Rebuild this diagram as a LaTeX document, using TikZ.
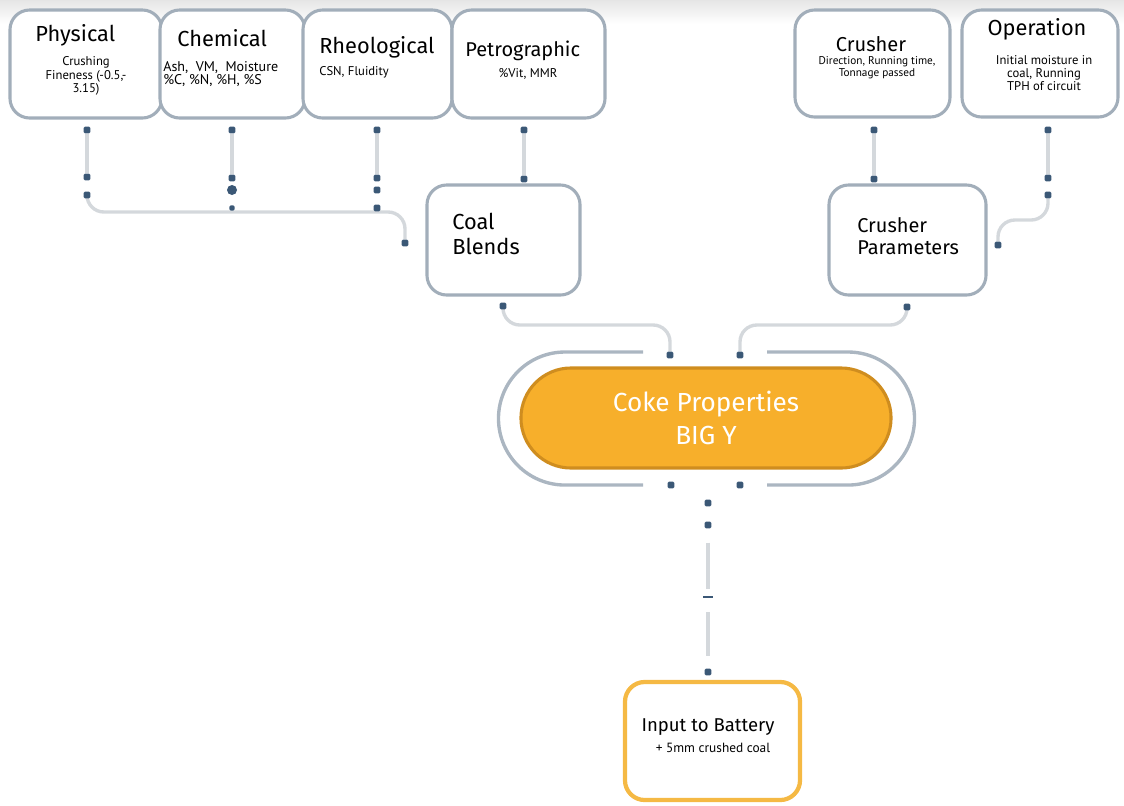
\documentclass[tikz,border=0pt]{standalone}
\usepackage{fontspec}
\setmainfont{Fira Sans}
\newfontfamily\subfont{PT Sans}
\usetikzlibrary{backgrounds}

\definecolor{boxline}{HTML}{A2AEBA}
\definecolor{dotblue}{HTML}{3B5876}
\definecolor{wiregray}{HTML}{D4D8DC}
\definecolor{cokefill}{HTML}{F7AF2B}
\definecolor{cokeline}{HTML}{CF8D1F}
\definecolor{battline}{HTML}{F5B944}

\begin{document}
\begin{tikzpicture}[x=0.025cm, y=-0.025cm,
  box/.style={draw=boxline, line width=2.2pt, rounded corners=14pt, fill=white, inner sep=0pt},
  title/.style={font=\fontsize{15.5}{18}\selectfont, inner sep=0pt},
  sub/.style={font=\subfont\fontsize{9}{9.4}\selectfont, inner sep=0pt},
  dot/.style={fill=dotblue, rounded corners=1pt, minimum size=0.17cm, inner sep=0pt},
  wire/.style={draw=wiregray, line width=2.4pt, rounded corners=12pt}]
\useasboundingbox (0,0) rectangle (1124,805);
\fill[top color=black!10, bottom color=white] (0,0) rectangle (1124,24);

% top row
\node[box, minimum width=3.8cm, minimum height=2.7cm] (phys) at (86,64) {};
\node[box, minimum width=3.625cm, minimum height=2.7cm] (chem) at (232.5,64) {};
\node[box, minimum width=3.725cm, minimum height=2.7cm] (rheo) at (377.5,64) {};
\node[box, minimum width=3.825cm, minimum height=2.7cm] (petro) at (528.5,64) {};
\node[box, minimum width=3.875cm, minimum height=2.675cm] (crush) at (872.5,63.5) {};
\node[box, minimum width=3.9cm, minimum height=2.675cm] (oper) at (1040,63.5) {};

\node[title, anchor=west] (phys-t) at (35,35) {Physical};
\node[sub, align=center] (phys-s) at (86,76) {Crushing\\Fineness (-0.5,-\\3.15)};
\node[title, anchor=west] (chem-t) at (177,38) {Chemical};
\node[sub, font=\subfont\fontsize{10}{9.3}\selectfont, align=left, anchor=west] (chem-s) at (163,74) {Ash,\ \ VM,\ \ Moisture\\\%C, \%N, \%H, \%S};
\node[title, anchor=west] (rheo-t) at (319,47) {Rheological};
\node[sub, anchor=west] (rheo-s) at (319,72) {CSN, Fluidity};
\node[title, font=\fontsize{14.2}{18}\selectfont, anchor=west] (petro-t) at (465,51) {Petrographic};
\node[sub] (petro-s) at (528,74) {\%Vit, MMR};
\node[title, font=\fontsize{14.3}{18}\selectfont] (crush-t) at (871,44) {Crusher};
\node[sub, font=\subfont\fontsize{8}{8.8}\selectfont, align=center] (crush-s) at (877,68) {Direction, Running time,\\Tonnage passed};
\node[title] (oper-t) at (1037,29) {Operation};
\node[sub, align=center] (oper-s) at (1044,73) {Initial moisture in\\coal, Running\\TPH of circuit};

% middle row
\node[box, minimum width=3.825cm, minimum height=2.75cm] (blend) at (503.5,240) {};
\node[title, align=left, anchor=west] (blend-t) at (452,234) {Coal\\Blends};
\node[box, minimum width=3.925cm, minimum height=2.75cm] (param) at (907.5,240) {};
\node[title, font=\fontsize{14.2}{15.5}\selectfont, align=left, anchor=west] (param-t) at (857,236) {Crusher\\Parameters};

% coke
\node[fill=cokefill, draw=cokeline, line width=2.2pt, rounded corners=1.25cm,
  minimum width=9.25cm, minimum height=2.5cm, text=white, align=center,
  font=\fontsize{18.6}{23}\selectfont] (coke) at (706,418) {Coke Properties\\BIG Y};
\draw[draw=boxline!90, line width=2.4pt] (643,352) -- (565,352)
  arc[start angle=90, end angle=270, radius=1.6625cm] -- (643,485);
\draw[draw=boxline!90, line width=2.4pt] (767,352) -- (848,352)
  arc[start angle=90, end angle=-90, radius=1.6625cm] -- (767,485);

% battery
\node[box, draw=battline, line width=3pt, minimum width=4.375cm, minimum height=2.95cm] (batt) at (712.5,741) {};
\node[font=\fontsize{13.2}{15}\selectfont, inner sep=0pt] (batt-t) at (708,727) {Input to Battery};
\node[sub, font=\subfont\fontsize{9.5}{9}\selectfont] (batt-s) at (713,748) {+ 5mm crushed coal};

% dots
\node[dot] (phys1) at (87,130) {};
\node[dot] (phys2) at (87,177) {};
\node[dot] (phys3) at (87,195) {};
\node[dot] (chem1) at (232,130) {};
\node[dot] (chem2) at (232,178) {};
\node[dot, circle, minimum size=0.25cm] (chem3) at (232,190) {};
\node[dot, minimum size=0.13cm] (chem4) at (232,208) {};
\node[dot] (rheo1) at (377,130) {};
\node[dot] (rheo2) at (377,178) {};
\node[dot] (rheo3) at (377,190) {};
\node[dot] (rheo4) at (377,208) {};
\node[dot] (petro1) at (524,130) {};
\node[dot] (petro2) at (524,179) {};
\node[dot] (blendin) at (405,243) {};
\node[dot] (blendout) at (503,306) {};
\node[dot] (crush1) at (874,130) {};
\node[dot] (crush2) at (874,179) {};
\node[dot] (oper1) at (1048,130) {};
\node[dot] (oper2) at (1048,178) {};
\node[dot] (oper3) at (1048,195) {};
\node[dot] (paramin) at (998,245) {};
\node[dot] (paramout) at (907,307) {};
\node[dot] (coke1) at (670,355) {};
\node[dot] (coke2) at (740,355) {};
\node[dot] (coke3) at (671,485) {};
\node[dot] (coke4) at (740,485) {};
\node[dot] (out1) at (708,503) {};
\node[dot] (out2) at (708,525) {};
\node[fill=dotblue, minimum width=0.25cm, minimum height=1.2pt, inner sep=0pt] (brk) at (708,597) {};
\node[dot] (battin) at (708,672) {};

\begin{scope}[on background layer]
\draw[wire] (phys1) -- (phys2);
\draw[wire] (chem1) -- (chem2);
\draw[wire] (rheo1) -- (rheo2);
\draw[wire] (petro1) -- (petro2);
\draw[wire] (crush1) -- (crush2);
\draw[wire] (oper1) -- (oper2);
\draw[wire] (phys3) -- ++(0,17) -| (blendin);
\draw[wire] (oper3) -- ++(0,25) -| (paramin);
\draw[wire] (blendout) -- ++(0,19) -| (coke1);
\draw[wire] (paramout) -- ++(0,18) -| (coke2);
\draw[wire, shorten <=0.35cm, shorten >=0.18cm] (out2) -- (brk);
\draw[wire, shorten <=0.35cm, shorten >=0.3cm] (brk) -- (battin);
\end{scope}
\end{tikzpicture}
\end{document}
